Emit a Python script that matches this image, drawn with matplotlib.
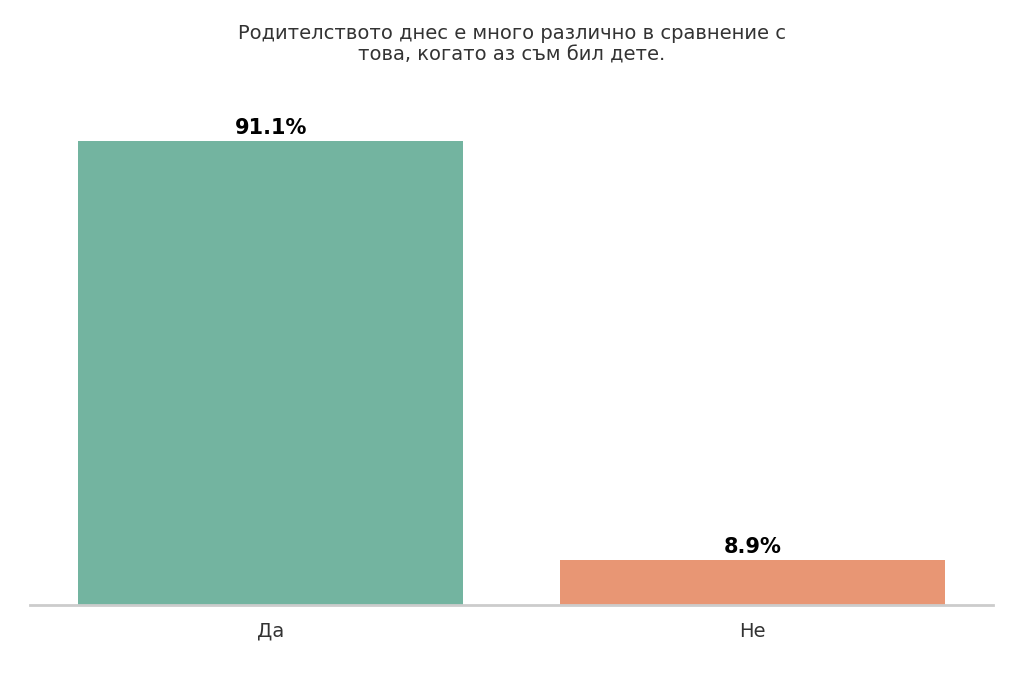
import matplotlib
matplotlib.use("Agg")
import matplotlib.pyplot as plt

categories = ["Да", "Не"]
values = [91.1, 8.9]
colors = ["#73b4a0", "#e89674"]
title = "Родителството днес е много различно в сравнение с\nтова, когато аз съм бил дете."

fig = plt.figure(figsize=(10.24, 6.83), dpi=100)
ax = fig.add_axes([0.029, 0.114, 0.941, 0.747])
x = range(len(categories))
ax.bar(x, values, width=0.8, color=colors)
for xi, v in zip(x, values):
    ax.text(xi, v + 0.6, f"{v:.1f}%", ha="center", va="bottom", fontsize=15, fontweight="bold", color="black")
ax.set_xlim(-0.5, 1.5)
ax.set_ylim(0, 100.2)
ax.set_xticks(list(x))
ax.set_xticklabels(categories, fontsize=14, color="#333333")
ax.tick_params(axis="x", length=0, pad=12)
ax.set_yticks([])
for s in ["top", "right", "left"]:
    ax.spines[s].set_visible(False)
ax.spines["bottom"].set_color("#cccccc")
ax.spines["bottom"].set_linewidth(2)
fig.suptitle(title, fontsize=14, color="#333333", y=0.965)
fig.savefig("out.png", dpi=100)
